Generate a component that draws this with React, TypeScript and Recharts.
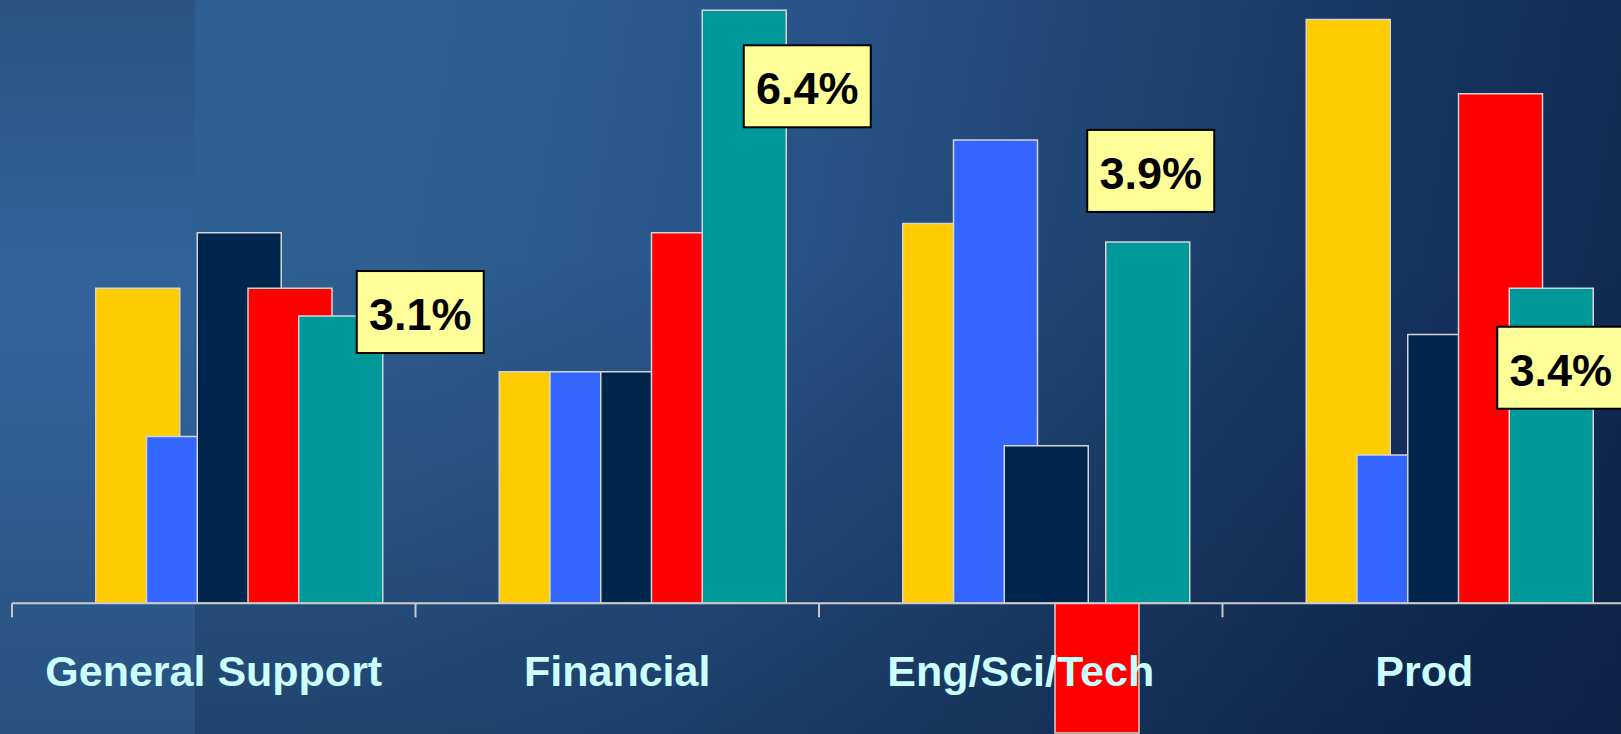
import React from "react";
import { BarChart, Bar, XAxis, YAxis, ReferenceLine, LabelList } from "recharts";

const categories = ["General Support", "Financial", "Eng/Sci/Tech", "Prod"];
const seriesA = [3.4, 2.5, 4.1, 6.3];
const seriesB = [1.8, 2.5, 5.0, 1.6];
const seriesC = [4.0, 2.5, 1.7, 2.9];
const seriesD = [3.4, 4.0, -1.4, 5.5];
const seriesE = [3.1, 6.4, 3.9, 3.4];

const data = categories.map((c, i) => ({
  category: c,
  a: seriesA[i],
  b: seriesB[i],
  c: seriesC[i],
  d: seriesD[i],
  e: seriesE[i],
}));

// layout constants
const CHART_W = 1700;
const CHART_H = 734;
const AXIS_H = 1;
const M = { top: 1, right: 74, left: 12, bottom: 0 };
const Y_MIN = -1.4;
const Y_MAX = 6.5;
const PLOT_H = CHART_H - M.top - M.bottom - AXIS_H;
const ZERO_Y = M.top + (Y_MAX / (Y_MAX - Y_MIN)) * PLOT_H;
const BAND = (CHART_W - M.left - M.right) / categories.length;

const CALLOUT_OFFSETS = [
  { dx: 16, dy: -45 },
  { dx: -0.5, dy: 35 },
  { dx: -60.5, dy: -112 },
  { dx: -54, dy: 38.5 },
];
const BOX_W = 127;
const BOX_H = 82;

const FONT = "'Liberation Sans', Arial, Helvetica, sans-serif";
const STROKE = "#d4d4d4";

const CategoryTick = (props: any) => {
  const { x, payload } = props;
  return (
    <g>
      <line x1={x - BAND / 2} x2={x - BAND / 2} y1={ZERO_Y} y2={ZERO_Y + 14} stroke="#c8c8c8" strokeWidth={2} />
      <text
        x={x}
        y={686}
        textAnchor="middle"
        fill="#CCFFFF"
        fontSize={43}
        fontWeight="bold"
        fontFamily={FONT}
      >
        {payload.value}
      </text>
    </g>
  );
};

const Callout = (props: any) => {
  const { x, y, width, height, index, value } = props;
  const off = CALLOUT_OFFSETS[index] || { dx: 0, dy: 0 };
  const top = Math.min(y, y + height);
  const bx = x + width / 2 + off.dx;
  const by = top + off.dy;
  return (
    <g>
      <rect x={bx} y={by} width={BOX_W} height={BOX_H} fill="#FFFF99" stroke="#000" strokeWidth={2} />
      <text
        x={bx + BOX_W / 2}
        y={by + 59}
        textAnchor="middle"
        fill="#000"
        fontSize={45}
        fontWeight="bold"
        fontFamily={FONT}
      >
        {`${Number(value).toFixed(1)}%`}
      </text>
    </g>
  );
};

export default function App() {
  return (
    <div
      style={{
        position: "fixed",
        left: 0,
        top: 0,
        width: 1621,
        height: 734,
        overflow: "hidden",
        background:
          "linear-gradient(to bottom, rgba(0,0,0,0) 0%, rgba(0,0,0,0) 35%, rgba(8,20,48,0.35) 100%), linear-gradient(100deg, #2F6196 0%, #2E5E90 28%, #29558A 45%, #1F4472 65%, #163460 82%, #0F2850 100%)",
      }}
    >
      <div
        style={{
          position: "absolute",
          left: 0,
          top: 0,
          width: 195,
          height: 734,
          background: "linear-gradient(to bottom, #2A5583 0%, #31639A 40%, #2E5C8E 70%, #28517F 100%)",
        }}
      />
      <div style={{ position: "absolute", left: 0, top: 0 }}>
        <BarChart
          width={CHART_W}
          height={CHART_H}
          data={data}
          margin={M}
          barSize={84}
          barGap={-33.25}
        >
          <XAxis
            dataKey="category"
            height={AXIS_H}
            axisLine={false}
            tickLine={false}
            tick={<CategoryTick />}
            interval={0}
          />
          <YAxis hide domain={[Y_MIN, Y_MAX]} />
          <ReferenceLine y={0} stroke="#cccccc" strokeWidth={2} />
          <Bar dataKey="spacer" fill="none" isAnimationActive={false} />
          <Bar dataKey="a" fill="#FFCC00" stroke={STROKE} strokeWidth={1.5} isAnimationActive={false} />
          <Bar dataKey="b" fill="#3366FF" stroke={STROKE} strokeWidth={1.5} isAnimationActive={false} />
          <Bar dataKey="c" fill="#00264D" stroke={STROKE} strokeWidth={1.5} isAnimationActive={false} />
          <Bar dataKey="d" fill="#FF0000" stroke={STROKE} strokeWidth={1.5} isAnimationActive={false} />
          <Bar dataKey="e" fill="#009999" stroke={STROKE} strokeWidth={1.5} isAnimationActive={false}>
            <LabelList dataKey="e" content={<Callout />} />
          </Bar>
        </BarChart>
      </div>
    </div>
  );
}
